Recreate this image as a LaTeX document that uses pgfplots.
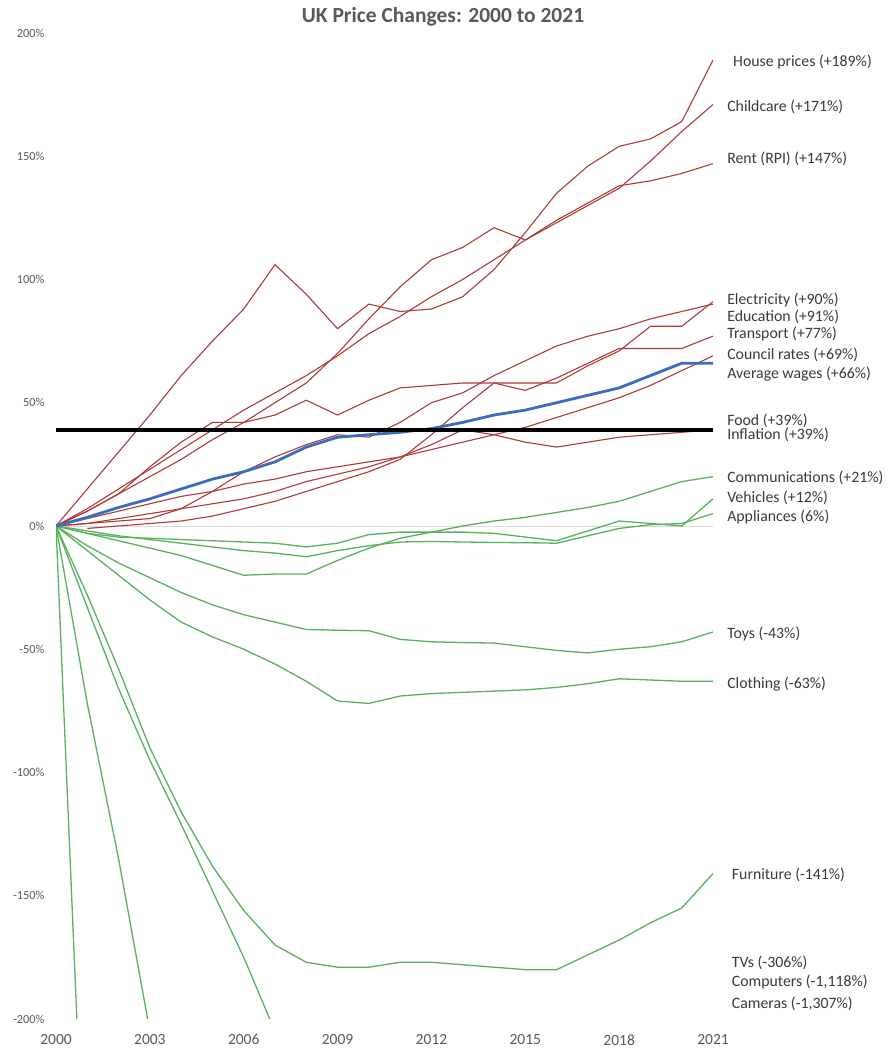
\documentclass[border=0pt]{standalone}
\usepackage{fontspec}
\setmainfont{Carlito}
\usepackage{pgfplots}
\pgfplotsset{compat=1.18}
\definecolor{redline}{HTML}{AE3A35}
\definecolor{greenline}{HTML}{58B25C}
\definecolor{blueline}{HTML}{3A6CBF}
\definecolor{labelgray}{HTML}{3A3A3A}
\definecolor{tickgray}{HTML}{595959}
\newcommand{\labfont}{\fontsize{15.8}{18}\selectfont}
\begin{document}
\begin{tikzpicture}
\path[use as bounding box] (0pt,0pt) rectangle (894pt,1049pt);
\node[font=\fontsize{21.5}{24}\selectfont\bfseries, text=tickgray, inner sep=0pt] at (443pt,1032pt) {UK Price Changes: 2000 to 2021};
\begin{axis}[
  at={(56pt,30pt)}, anchor=south west, scale only axis,
  width=657pt, height=986pt,
  xmin=2000, xmax=2021, ymin=-200, ymax=200,
  axis line style={draw=none}, major tick length=0pt,
  xtick={2000,2003,...,2021},
  xticklabels={2000,2003,2006,2009,2012,2015,2018,2021},
  ytick={-200,-150,...,200},
  yticklabels={-200\%,-150\%,-100\%,-50\%,0\%,50\%,100\%,150\%,200\%},
  xticklabel style={font=\fontsize{15.5}{17}\selectfont, text=tickgray, yshift=-12pt},
  yticklabel style={font=\fontsize{12.3}{14}\selectfont, text=tickgray, xshift=-8pt},
  clip mode=individual,
  every axis plot/.append style={line join=round},
]
\draw[gray!30, line width=0.9pt] (axis cs:2000,0) -- (axis cs:2021,0);

% ---------- green series ----------
\addplot[greenline, line width=1.3pt] coordinates {(2000,0)(2001,-3)(2002,-6)(2003,-9)(2004,-12)(2005,-16)(2006,-20)(2007,-19.5)(2008,-19.5)(2009,-14)(2010,-9)(2011,-5)(2012,-2.5)(2013,0)(2014,2)(2015,3.5)(2016,5.5)(2017,7.5)(2018,10)(2019,14)(2020,18)(2021,20)}; % Communications
\addplot[greenline, line width=1.3pt] coordinates {(2000,0)(2001,-3)(2002,-4.5)(2003,-5)(2004,-5.5)(2005,-6)(2006,-6.5)(2007,-7)(2008,-8.5)(2009,-7)(2010,-3.5)(2011,-2.5)(2012,-2.5)(2013,-2.5)(2014,-3)(2015,-4.5)(2016,-6)(2017,-2)(2018,2)(2019,1)(2020,0)(2021,11)}; % Vehicles
\addplot[greenline, line width=1.3pt] coordinates {(2000,0)(2001,-2)(2002,-4)(2003,-5.5)(2004,-7)(2005,-8.5)(2006,-10)(2007,-11)(2008,-12.5)(2009,-10)(2010,-8)(2011,-6.5)(2012,-6.3)(2013,-6.5)(2014,-6.7)(2015,-6.8)(2016,-7)(2017,-4)(2018,-1)(2019,0.5)(2020,1)(2021,5)}; % Appliances
\addplot[greenline, line width=1.3pt] coordinates {(2000,0)(2001,-8)(2002,-15)(2003,-21)(2004,-27)(2005,-32)(2006,-36)(2007,-39)(2008,-42)(2009,-42.3)(2010,-42.5)(2011,-46)(2012,-47)(2013,-47.3)(2014,-47.5)(2015,-49)(2016,-50.5)(2017,-51.5)(2018,-50)(2019,-49)(2020,-47)(2021,-43)}; % Toys
\addplot[greenline, line width=1.3pt] coordinates {(2000,0)(2001,-10)(2002,-20)(2003,-30)(2004,-39)(2005,-45)(2006,-50)(2007,-56)(2008,-63)(2009,-71)(2010,-72)(2011,-69)(2012,-68)(2013,-67.5)(2014,-67)(2015,-66.5)(2016,-65.5)(2017,-64)(2018,-62)(2019,-62.5)(2020,-63)(2021,-63)}; % Clothing
\addplot[greenline, line width=1.3pt] coordinates {(2000,0)(2001,-28)(2002,-58)(2003,-90)(2004,-116)(2005,-138)(2006,-156)(2007,-170)(2008,-177)(2009,-179)(2010,-179)(2011,-177)(2012,-177)(2013,-178)(2014,-179)(2015,-180)(2016,-180)(2017,-174)(2018,-168)(2019,-161)(2020,-155)(2021,-141)}; % Furniture
\addplot[greenline, line width=1.3pt] coordinates {(2000,0)(2001,-33)(2002,-66)(2003,-95)(2004,-121)(2005,-148)(2006,-175)(2007,-205)(2008,-225)(2009,-240)(2010,-252)(2011,-262)(2012,-270)(2013,-277)(2014,-283)(2015,-288)(2016,-292)(2017,-296)(2018,-299)(2019,-302)(2020,-304)(2021,-306)}; % TVs
\addplot[greenline, line width=1.3pt] coordinates {(2000,0)(2001,-72)(2002,-135)(2003,-205)(2004,-290)(2005,-380)(2006,-470)(2007,-560)(2008,-640)(2009,-710)(2010,-770)(2011,-830)(2012,-880)(2013,-920)(2014,-960)(2015,-990)(2016,-1020)(2017,-1045)(2018,-1070)(2019,-1090)(2020,-1105)(2021,-1118)}; % Computers
\addplot[greenline, line width=1.3pt] coordinates {(2000,0)(2001,-300)(2002,-520)(2003,-700)(2004,-830)(2005,-930)(2006,-1010)(2007,-1070)(2008,-1120)(2009,-1160)(2010,-1190)(2011,-1215)(2012,-1235)(2013,-1250)(2014,-1265)(2015,-1275)(2016,-1285)(2017,-1292)(2018,-1298)(2019,-1302)(2020,-1305)(2021,-1307)}; % Cameras

% ---------- red series ----------
\addplot[redline, line width=1.1pt] coordinates {(2000,0)(2001,15)(2002,30)(2003,45)(2004,61)(2005,75)(2006,88)(2007,106)(2008,94)(2009,80)(2010,90)(2011,87)(2012,88)(2013,93)(2014,104)(2015,119)(2016,135)(2017,146)(2018,154)(2019,157)(2020,164)(2021,189)}; % House prices
\addplot[redline, line width=1.1pt] coordinates {(2000,0)(2001,7)(2002,15)(2003,23)(2004,31)(2005,39)(2006,47)(2007,54)(2008,61)(2009,69)(2010,78)(2011,85)(2012,93)(2013,100)(2014,108)(2015,116)(2016,123)(2017,130)(2018,137)(2019,148)(2020,160)(2021,171)}; % Childcare
\addplot[redline, line width=1.1pt] coordinates {(2000,0)(2001,6)(2002,13)(2003,20)(2004,27)(2005,35)(2006,42)(2007,50)(2008,58)(2009,70)(2010,84)(2011,97)(2012,108)(2013,113)(2014,121)(2015,116)(2016,124)(2017,131)(2018,138)(2019,140)(2020,143)(2021,147)}; % Rent
\addplot[redline, line width=1.1pt] coordinates {(2000,0)(2001,1)(2002,2)(2003,3)(2004,7)(2005,14)(2006,22)(2007,28)(2008,33)(2009,37)(2010,36)(2011,42)(2012,50)(2013,54)(2014,61)(2015,67)(2016,73)(2017,77)(2018,80)(2019,84)(2020,87)(2021,90)}; % Electricity
\addplot[redline, line width=1.1pt] coordinates {(2001,-1)(2002,0)(2003,1)(2004,2)(2005,4)(2006,7)(2007,10)(2008,14)(2009,18)(2010,22)(2011,27)(2012,37)(2013,48)(2014,58)(2015,58)(2016,58)(2017,65)(2018,71)(2019,81)(2020,81)(2021,91)}; % Education
\addplot[redline, line width=1.1pt] coordinates {(2000,0)(2001,6)(2002,13)(2003,24)(2004,34)(2005,42)(2006,42)(2007,45)(2008,51)(2009,45)(2010,51)(2011,56)(2012,57)(2013,58)(2014,58)(2015,55)(2016,60)(2017,66)(2018,72)(2019,72)(2020,72)(2021,77)}; % Transport
\addplot[redline, line width=1.1pt] coordinates {(2000,0)(2001,3)(2002,6)(2003,9)(2004,12)(2005,14)(2006,17)(2007,19)(2008,22)(2009,24)(2010,26)(2011,28)(2012,31)(2013,34)(2014,37)(2015,40)(2016,44)(2017,48)(2018,52)(2019,57)(2020,63)(2021,69)}; % Council rates
\addplot[redline, line width=1.1pt] coordinates {(2000,0)(2001,1)(2002,3)(2003,5)(2004,7)(2005,9)(2006,11)(2007,14)(2008,18)(2009,21)(2010,24)(2011,28)(2012,33)(2013,39)(2014,37)(2015,34)(2016,32)(2017,34)(2018,36)(2019,37)(2020,38)(2021,39)}; % Food

% ---------- average wages and inflation ----------
\addplot[blueline, line width=2.8pt] coordinates {(2000,0)(2001,3.5)(2002,7.5)(2003,11)(2004,15)(2005,19)(2006,22)(2007,26)(2008,32)(2009,36)(2010,37)(2011,38)(2012,39.5)(2013,42)(2014,45)(2015,47)(2016,50)(2017,53)(2018,56)(2019,61)(2020,66)(2021,66)}; % Average wages
\addplot[black, line width=3.8pt] coordinates {(2000,39)(2021,39)}; % Inflation

% ---------- end labels ----------
\begin{scope}[every node/.style={anchor=west, inner sep=0pt, font=\labfont, text=labelgray}]
\node at (axis cs:2021.64,188.2) {House prices (+189\%)};
\node at (axis cs:2021.45,170) {Childcare (+171\%)};
\node at (axis cs:2021.45,148.9) {Rent (RPI) (+147\%)};
\node at (axis cs:2021.45,91.7) {Electricity (+90\%)};
\node at (axis cs:2021.45,84.8) {Education (+91\%)};
\node at (axis cs:2021.45,77.9) {Transport (+77\%)};
\node at (axis cs:2021.45,69.4) {Council rates (+69\%)};
\node at (axis cs:2021.45,61.7) {Average wages (+66\%)};
\node at (axis cs:2021.45,42.6) {Food (+39\%)};
\node at (axis cs:2021.45,36.8) {Inflation (+39\%)};
\node at (axis cs:2021.45,19.5) {Communications (+21\%)};
\node at (axis cs:2021.45,11.4) {Vehicles (+12\%)};
\node at (axis cs:2021.45,3.7) {Appliances (6\%)};
\node at (axis cs:2021.45,-43.8) {Toys (-43\%)};
\node at (axis cs:2021.45,-64.1) {Clothing (-63\%)};
\node at (axis cs:2021.6,-141.6) {Furniture (-141\%)};
\node at (axis cs:2021.6,-177.3) {TVs (-306\%)};
\node at (axis cs:2021.6,-185) {Computers (-1,118\%)};
\node at (axis cs:2021.6,-193.9) {Cameras (-1,307\%)};
\end{scope}
\end{axis}
\end{tikzpicture}
\end{document}
